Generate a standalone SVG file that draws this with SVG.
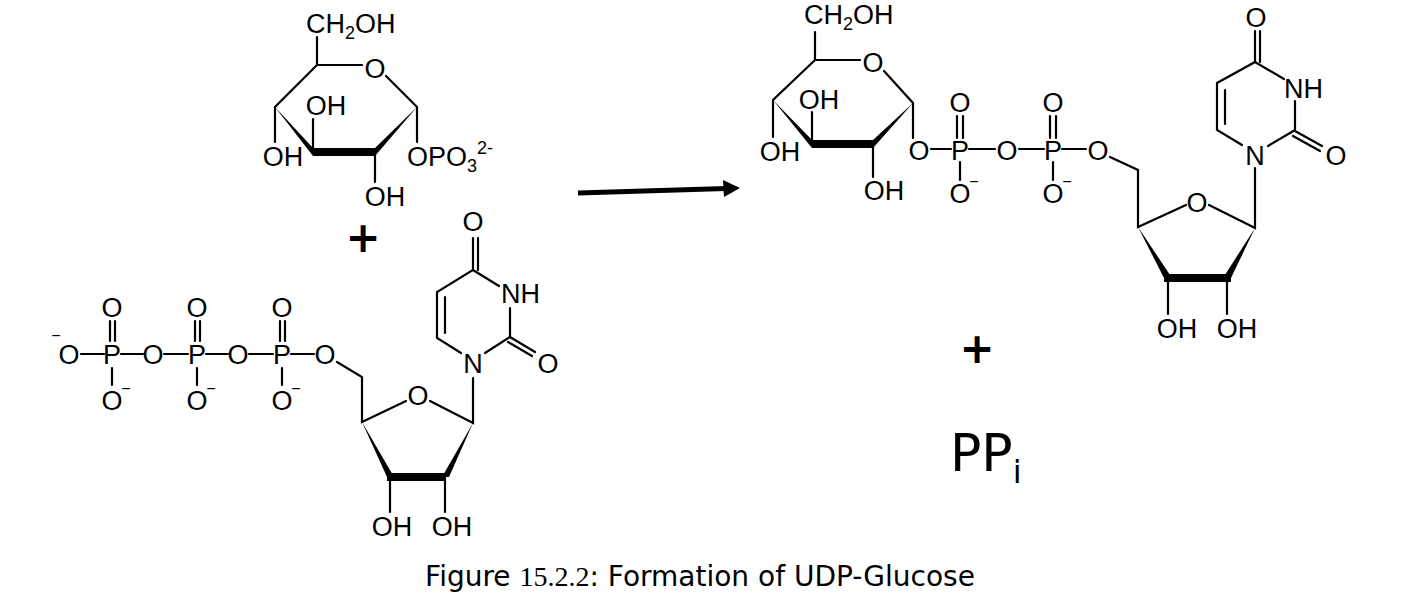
<svg xmlns="http://www.w3.org/2000/svg" width="1410" height="608" viewBox="0 0 1410 608">
<style>
.b{stroke:#000;stroke-width:2.2;fill:none;stroke-linecap:round}
.t{font-family:"Liberation Sans",Arial,sans-serif;font-size:27px;fill:#000;text-anchor:middle}
.m{font-family:"Liberation Sans",Arial,sans-serif;font-size:16px;fill:#000;text-anchor:middle}
.w{fill:#000}
.tah{font-family:"DejaVu Sans",Verdana,sans-serif;fill:#000}
</style>
<rect width="1410" height="608" fill="#fff"/>

<g id="glucose-1-phosphate">
<path class="b" d="M317,37 V65 H362 M386,76 L417,107 V142 M317,65 L275,107 V142 M313,152 V119 M375,152 V182"/>
<polygon class="w" points="275,107 313,148 313,156"/>
<polygon class="w" points="313,148 375,148 375,156 313,156"/>
<polygon class="w" points="417,107 375,148 375,156"/>
<text class="t" x="306" y="33" style="text-anchor:start">CH<tspan font-size="18" dy="6">2</tspan><tspan dy="-6">OH</tspan></text>
<text class="t" x="375" y="78">O</text>
<text class="t" x="326" y="115">OH</text>
<text class="t" x="283" y="166">OH</text>
<text class="t" x="385" y="206">OH</text>
<text class="t" x="407" y="166" style="text-anchor:start">OPO<tspan font-size="18" dy="6">3</tspan><tspan font-size="18" dy="-18">2-</tspan></text>
</g>

<g id="plus-1"><text class="tah" x="363" y="252" font-size="42" font-weight="bold" text-anchor="middle">+</text></g>

<g id="UTP">
<path class="b" d="M81,354 H104 M121,354 H143 M164,354 H188 M206,354 H228 M249,354 H273 M291,354 H314"/>
<path class="b" d="M110,321 V341 M115,321 V341 M195,321 V341 M200,321 V341 M280,321 V341 M285,321 V341 M112,368 V385 M197,368 V385 M282,368 V385"/>
<text class="t" x="69" y="364">O</text><text class="m" x="56" y="341">−</text>
<text class="t" x="112" y="364">P</text><text class="t" x="153" y="364">O</text>
<text class="t" x="197" y="364">P</text><text class="t" x="238" y="364">O</text>
<text class="t" x="282" y="364">P</text><text class="t" x="325" y="364">O</text>
<text class="t" x="112" y="317">O</text><text class="t" x="197" y="317">O</text><text class="t" x="282" y="317">O</text>
<text class="t" x="112" y="410">O</text><text class="t" x="197" y="410">O</text><text class="t" x="282" y="410">O</text>
<text class="m" x="126" y="394">−</text><text class="m" x="211" y="394">−</text><text class="m" x="296" y="394">−</text>
<path class="b" d="M337,362 L362,377 V422 L406,401 M430,401 L473,423 V378"/>
<polygon class="w" points="362,422 387,477 394,477"/>
<polygon class="w" points="387,473 446,473 446,481 387,481"/>
<polygon class="w" points="473,423 442,477 449,477"/>
<path class="b" d="M390,477 V512 M445,477 V512"/>
<text class="t" x="418" y="405">O</text>
<text class="t" x="392" y="536">OH</text>
<text class="t" x="452" y="536">OH</text>
<text class="t" x="473" y="373">N</text>
<path class="b" d="M461,353 L437,338 V292 L473,270 V238 M478,270 V238 M445,333 V297 M473,270 L499,286 M510,308 V337 L485,353 M510,337 L535,352 M508,342 L532,356"/>
<text class="t" x="473" y="231">O</text>
<text class="t" x="501" y="303" style="text-anchor:start">NH</text>
<text class="t" x="548" y="373">O</text>
</g>

<g id="connectors">
<line x1="578" y1="193" x2="726" y2="188.5" stroke="#000" stroke-width="5"/>
<polygon points="740,188 723,180 724,197" fill="#000"/>
</g>

<g id="UDP-glucose">
<path class="b" d="M815,32 V60 H860 M884,71 L913,103 V138 M815,60 L773,100 V137 M812,144 V112 M873,144 V177"/>
<polygon class="w" points="773,100 812,140 812,148"/>
<polygon class="w" points="812,140 873,140 873,148 812,148"/>
<polygon class="w" points="913,103 873,140 873,148"/>
<text class="t" x="804" y="24" style="text-anchor:start">CH<tspan font-size="18" dy="6">2</tspan><tspan dy="-6">OH</tspan></text>
<text class="t" x="873" y="72">O</text>
<text class="t" x="819" y="109">OH</text>
<text class="t" x="780" y="161">OH</text>
<text class="t" x="884" y="200">OH</text>
<text class="t" x="919" y="160">O</text>
<text class="t" x="960" y="160">P</text>
<text class="t" x="1007" y="160">O</text>
<text class="t" x="1053" y="160">P</text>
<path class="b" d="M931,149 H951 M969,149 H995 M1019,149 H1044 M1062,149 H1086"/>
<path class="b" d="M957,116 V138 M963,116 V138 M1050,116 V138 M1056,116 V138 M960,162 V180 M1053,162 V180"/>
<text class="t" x="960" y="112">O</text><text class="t" x="1053" y="112">O</text>
<text class="t" x="960" y="203">O</text><text class="t" x="1053" y="203">O</text>
<text class="m" x="974" y="187">−</text><text class="m" x="1067" y="187">−</text>
<text class="t" x="1098" y="160">O</text>
<path class="b" d="M1110,157 L1138,170 V227 L1186,205 M1209,205 L1255,228 V168"/>
<polygon class="w" points="1138,227 1164,278 1172,278"/>
<polygon class="w" points="1164,274 1231,274 1231,282 1164,282"/>
<polygon class="w" points="1255,228 1223,278 1231,278"/>
<path class="b" d="M1168,278 V314 M1227,278 V314"/>
<text class="t" x="1197" y="212">O</text>
<text class="t" x="1177" y="338">OH</text>
<text class="t" x="1237" y="338">OH</text>
<text class="t" x="1255" y="165">N</text>
<path class="b" d="M1242,145 L1217,130 V83 L1255,62 V31 M1260,62 V31 M1225,124 V90 M1255,62 L1284,79 M1295,101 V130 L1268,146 M1295,131 L1322,146 M1293,136 L1320,151"/>
<text class="t" x="1256" y="27">O</text>
<text class="t" x="1284" y="98" style="text-anchor:start">NH</text>
<text class="t" x="1336" y="165">O</text>
</g>

<g id="plus-2"><text class="tah" x="977" y="363" font-size="42" font-weight="bold" text-anchor="middle">+</text></g>
<g id="PPi"><text class="tah" x="950" y="471" font-size="52">PP<tspan font-size="32" dy="12">i</tspan></text></g>

<g id="caption"><text class="tah" x="700" y="586" font-size="28" text-anchor="middle">Figure <tspan font-family="Liberation Serif,serif">15.2.2</tspan>: Formation of UDP-Glucose</text></g>
</svg>
